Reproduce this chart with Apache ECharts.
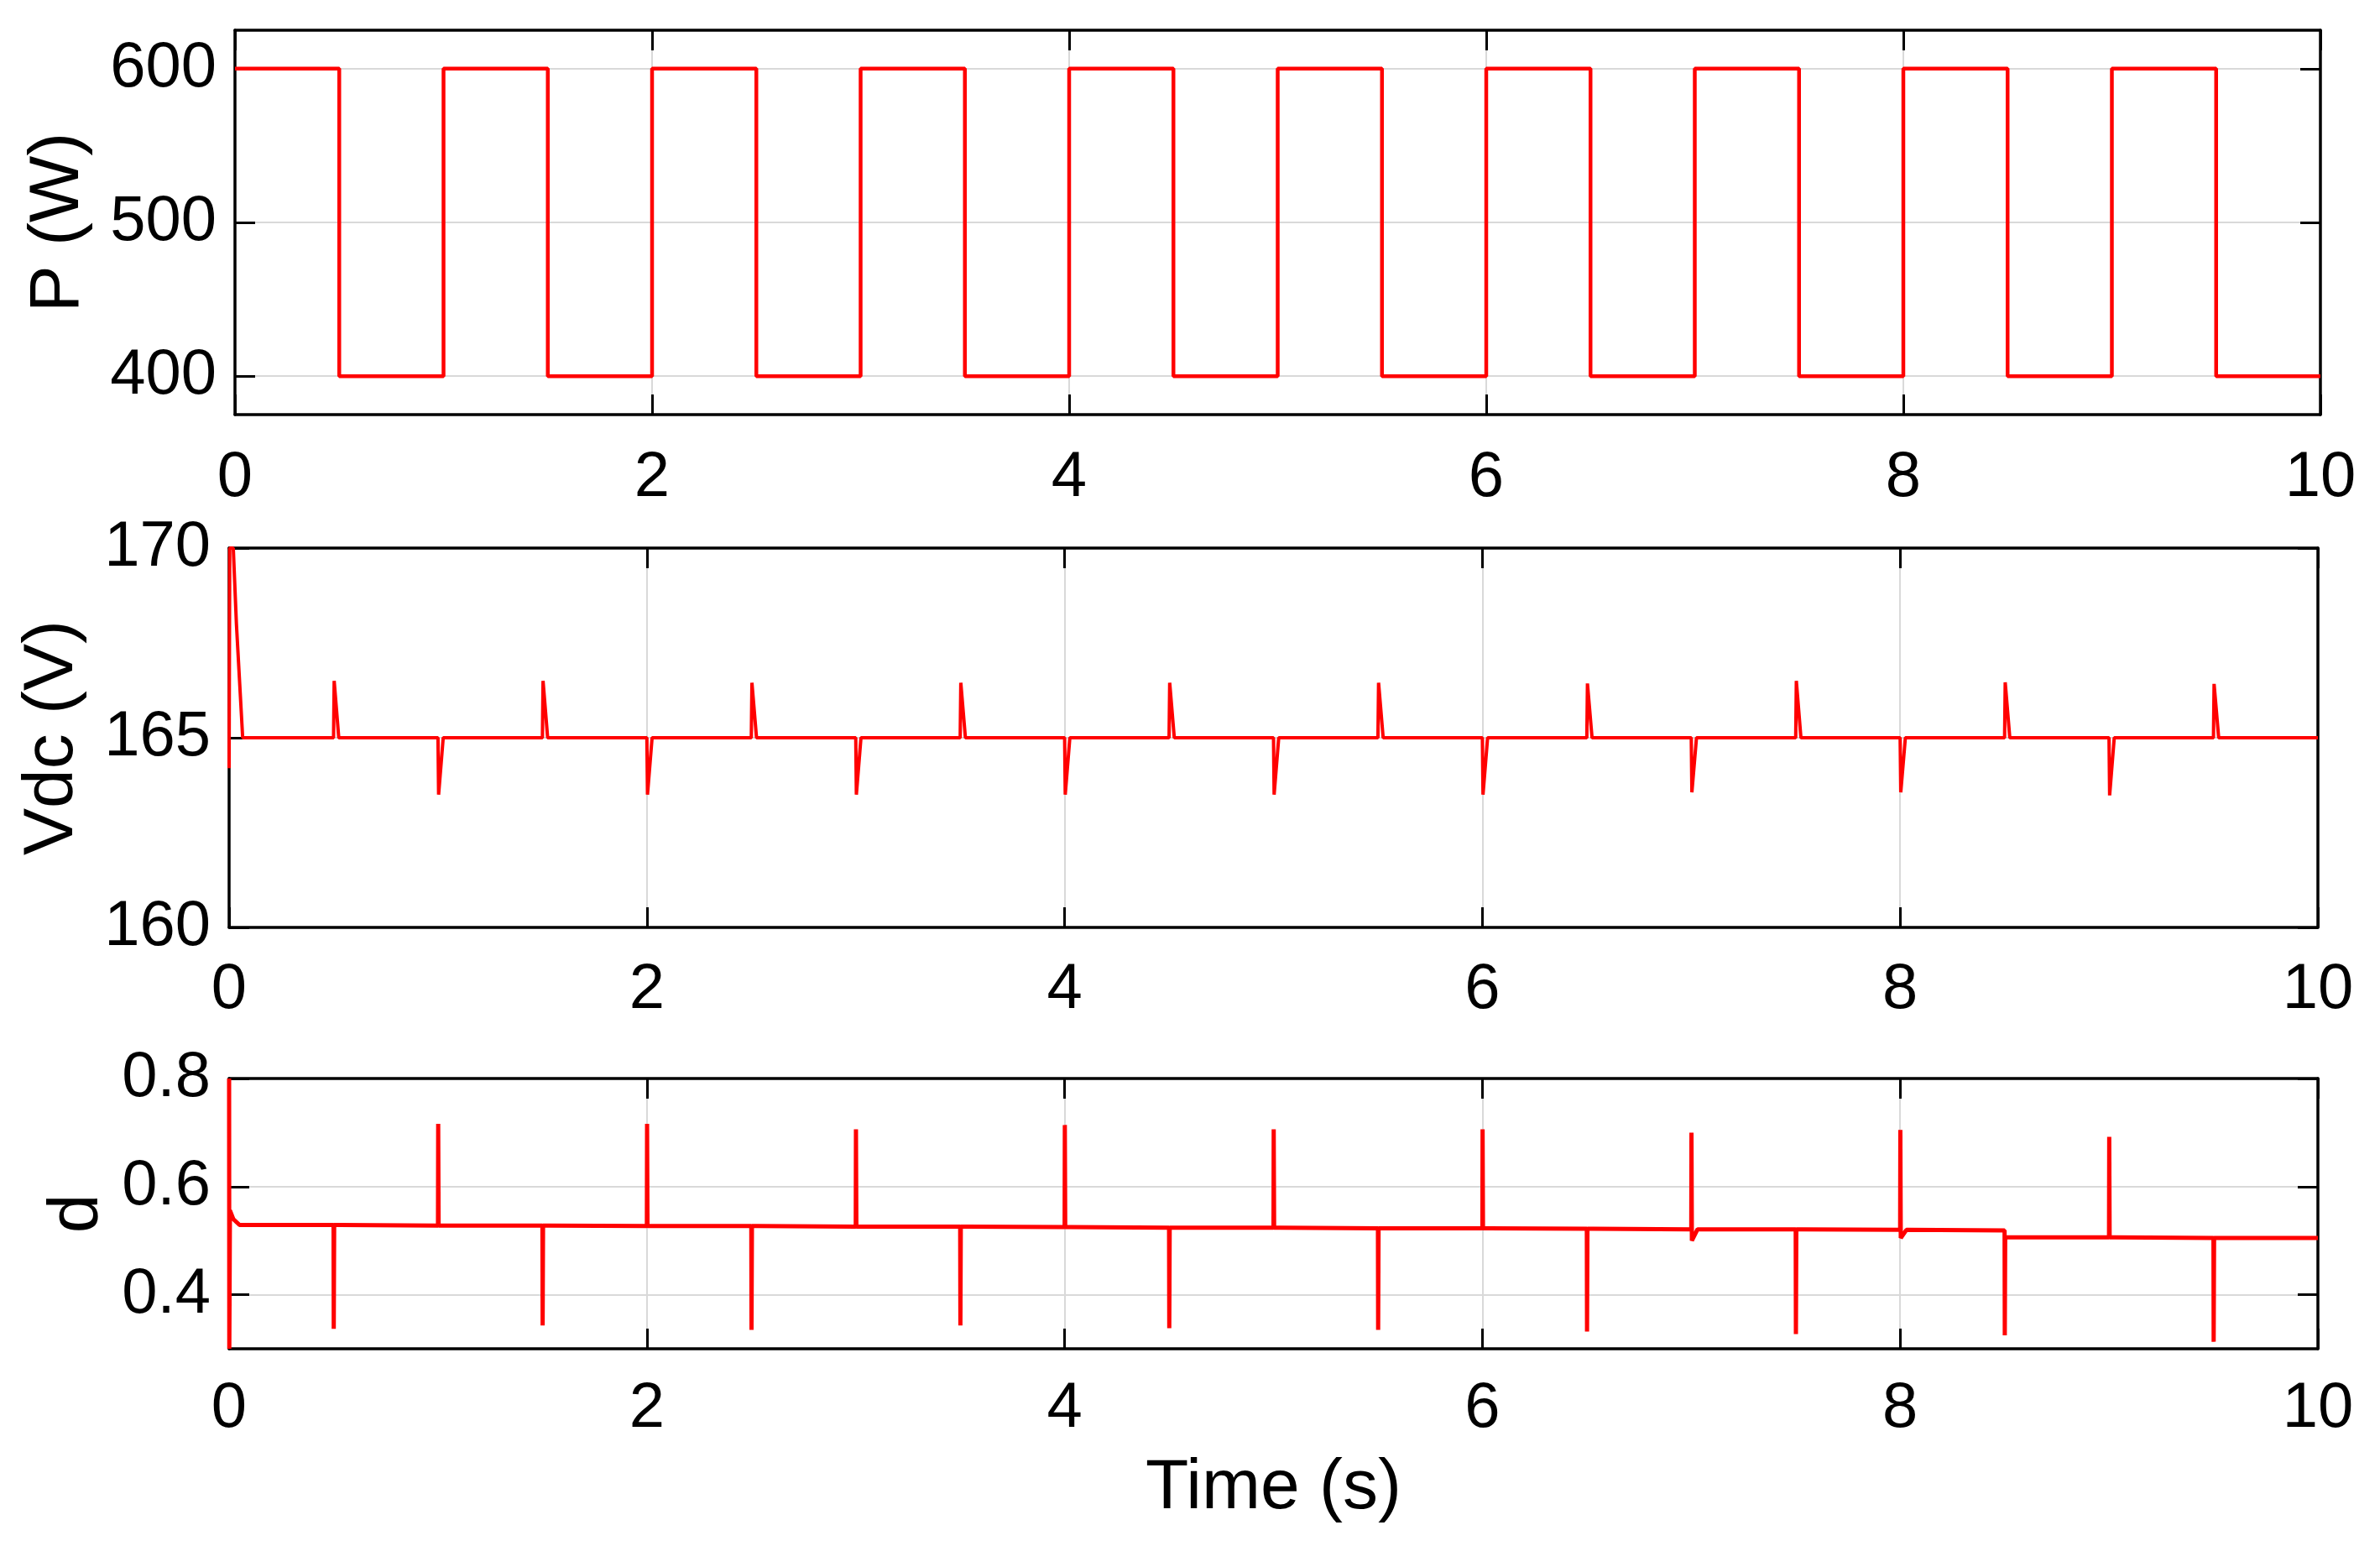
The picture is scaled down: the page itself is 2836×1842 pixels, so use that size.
<!DOCTYPE html>
<html>
<head>
<meta charset="utf-8">
<script src="https://cdn.jsdelivr.net/npm/echarts@6/dist/echarts.min.js"></script>
<style>
html,body{margin:0;padding:0;background:#fff}
#chart{width:2836px;height:1842px}
</style>
</head>
<body>
<div id="chart"></div>
<script>
// time axis (s)
var timeTicks = [0, 2, 4, 6, 8, 10]

// P (W): level held from each switching time
var pSwitchTimes = [0, 0.5, 1, 1.5, 2, 2.5, 3, 3.5, 4, 4.5, 5, 5.5, 6, 6.5, 7, 7.5, 8, 8.5, 9, 9.5, 10]
var pLevels = [600, 400, 600, 400, 600, 400, 600, 400, 600, 400, 600, 400, 600, 400, 600, 400, 600, 400, 600, 400, 400]
var pTicks = [400, 500, 600]

// Vdc (V): start-up transient, then spikes at each load step
var vdcNominal = 165
var vdcStartTimes = [0, 0.003, 0.02, 0.035, 0.065]
var vdcStartValues = [164.2, 170, 170, 168, 165]
var vdcEventTimes = [0.5, 1, 1.5, 2, 2.5, 3, 3.5, 4, 4.5, 5, 5.5, 6, 6.5, 7, 7.5, 8, 8.5, 9, 9.5]
var vdcSpikes = [166.5, 163.5, 166.5, 163.5, 166.45, 163.5, 166.45, 163.5, 166.45, 163.5, 166.45, 163.5, 166.43, 163.56, 166.5, 163.56, 166.46, 163.48, 166.42]
var vdcTicks = [160, 165, 170]

// d: start-up, then spikes at each load step
var dStartTimes = [0, 0.001, 0.004, 0.02, 0.05]
var dStartValues = [0.8, 0.3, 0.556, 0.54, 0.529]
var dEventTimes = [0.5, 1, 1.5, 2, 2.5, 3, 3.5, 4, 4.5, 5, 5.5, 6, 6.5, 7, 7.5, 8, 8.5, 9, 9.5]
var dBefore = [0.529, 0.528, 0.528, 0.527, 0.527, 0.526, 0.526, 0.525, 0.524, 0.524, 0.523, 0.523, 0.522, 0.521, 0.521, 0.520, 0.519, 0.506, 0.505]
var dPeaks  = [0.337, 0.716, 0.343, 0.716, 0.335, 0.706, 0.343, 0.714, 0.338, 0.706, 0.335, 0.706, 0.332, 0.700, 0.327, 0.705, 0.325, 0.692, 0.313]
var dSettle = [0.529, 0.528, 0.528, 0.527, 0.527, 0.526, 0.526, 0.525, 0.524, 0.524, 0.523, 0.523, 0.522, 0.500, 0.521, 0.505, 0.506, 0.506, 0.505]
var dAfter  = [0.529, 0.528, 0.528, 0.527, 0.527, 0.526, 0.526, 0.525, 0.524, 0.524, 0.523, 0.523, 0.522, 0.521, 0.521, 0.520, 0.506, 0.506, 0.505]
var dEndTime = 10
var dEndValue = 0.505
var dTicks = [0.4, 0.6, 0.8]

// build point lists for the library
var pData = pSwitchTimes.map(function (t, i) { return [t, pLevels[i]] })

var vdcData = vdcStartTimes.map(function (t, i) { return [t, vdcStartValues[i]] })
vdcEventTimes.forEach(function (t, i) {
  vdcData.push([t, vdcNominal], [t + 0.003, vdcSpikes[i]], [t + 0.025, vdcNominal])
})
vdcData.push([10, vdcNominal])

var dData = dStartTimes.map(function (t, i) { return [t, dStartValues[i]] })
dEventTimes.forEach(function (t, i) {
  dData.push([t, dBefore[i]], [t + 0.001, dPeaks[i]], [t + 0.003, dSettle[i]], [t + 0.03, dAfter[i]])
})
dData.push([dEndTime, dEndValue])

var FONT = 'Liberation Sans, Arial, sans-serif'
var RED = '#ff0000'

var grids = [
  { left: 280, top: 36, width: 2485, height: 458 },
  { left: 273, top: 653, width: 2489, height: 452 },
  { left: 273, top: 1285, width: 2489, height: 322 }
]

function boxLine() {
  return { show: true, onZero: false, lineStyle: { color: '#000', width: 3.5 } }
}
function inTick(values) {
  var t = { show: true, inside: true, length: 24, lineStyle: { color: '#000', width: 3 } }
  if (values) t.customValues = values
  return t
}
var gridLine = { show: true, lineStyle: { color: '#d9d9d9', width: 2 } }

var xAxes = []
var yAxes = []
var yRanges = [
  { min: 375, max: 625, ticks: pTicks, name: 'P (W)', gap: 168 },
  { min: 160, max: 170, ticks: vdcTicks, name: 'Vdc (V)', gap: 168 },
  { min: 0.3, max: 0.8, ticks: dTicks, name: 'd', gap: 138 }
]
var xMargins = [38, 37, 34]

grids.forEach(function (g, k) {
  var xMain = {
    type: 'value', gridIndex: k, position: 'bottom', min: 0, max: 10,
    axisLine: boxLine(), axisTick: inTick(timeTicks), splitLine: gridLine,
    axisLabel: { customValues: timeTicks, fontSize: 76, color: '#000', fontFamily: FONT, margin: xMargins[k] }
  }
  if (k === 2) {
    xMain.name = 'Time (s)'
    xMain.nameLocation = 'middle'
    xMain.nameGap = 125
    xMain.nameTextStyle = { fontSize: 84, color: '#000', fontFamily: FONT }
  }
  xAxes.push(xMain)
  xAxes.push({
    type: 'value', gridIndex: k, position: 'top', min: 0, max: 10,
    axisLine: boxLine(), axisTick: inTick(timeTicks), splitLine: { show: false },
    axisLabel: { show: false }
  })

  var r = yRanges[k]
  yAxes.push({
    type: 'value', gridIndex: k, position: 'left', min: r.min, max: r.max,
    axisLine: boxLine(), axisTick: inTick(r.ticks), splitLine: gridLine,
    axisLabel: { customValues: r.ticks, fontSize: 76, color: '#000', fontFamily: FONT, margin: 22 },
    name: r.name, nameLocation: 'middle', nameRotate: 90, nameGap: r.gap,
    nameTextStyle: { fontSize: 84, color: '#000', fontFamily: FONT }
  })
  yAxes.push({
    type: 'value', gridIndex: k, position: 'right', min: r.min, max: r.max,
    axisLine: boxLine(), axisTick: inTick(r.ticks), splitLine: { show: false },
    axisLabel: { show: false }
  })
})

function trace(data, k, width, step) {
  var s = {
    type: 'line', data: data, xAxisIndex: 2 * k, yAxisIndex: 2 * k,
    symbol: 'none', clip: true,
    lineStyle: { color: RED, width: width }
  }
  if (step) s.step = step
  return s
}

var chart = echarts.init(document.getElementById('chart'))
chart.setOption({
  animation: false,
  backgroundColor: '#fff',
  grid: grids,
  xAxis: xAxes,
  yAxis: yAxes,
  series: [
    trace(pData, 0, 4.5, 'end'),
    trace(vdcData, 1, 4),
    trace(dData, 2, 5)
  ]
})
</script>
</body>
</html>
